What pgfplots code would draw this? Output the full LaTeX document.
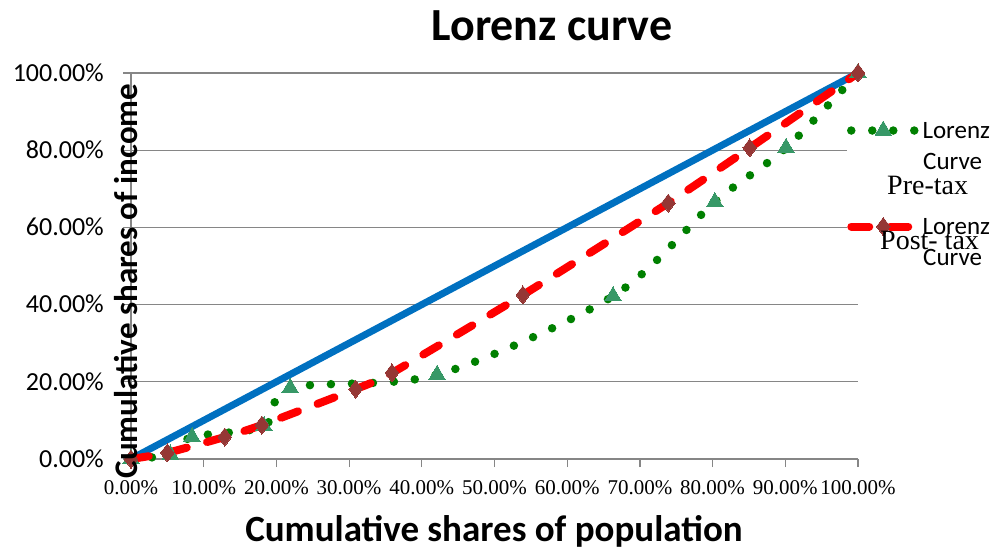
\documentclass[border=0pt]{standalone}
\usepackage{pgfplots}
\pgfplotsset{compat=1.18}
\usepackage{fontspec}
\setmainfont{Liberation Serif}
\newfontfamily\calib{Carlito}
\definecolor{eqblue}{RGB}{0,112,192}
\definecolor{pregreen}{RGB}{0,128,0}
\definecolor{pretri}{RGB}{55,152,103}
\definecolor{postred}{RGB}{255,0,0}
\definecolor{postdia}{RGB}{149,55,53}
\definecolor{gridgray}{RGB}{134,134,134}
\begin{document}
\begin{tikzpicture}
\useasboundingbox (-131pt,-88pt) rectangle (865pt,459pt);
\begin{axis}[
  at={(0pt,0pt)}, anchor=south west,
  scale only axis, width=727pt, height=386pt,
  xmin=0, xmax=100, ymin=0, ymax=100,
  clip=false,
  axis lines*=left,
  axis line style={gridgray, line width=1.2pt},
  ymajorgrids, major grid style={gridgray, line width=1.2pt},
  tick align=outside, major tick length=8pt,
  tick style={gridgray, line width=1.2pt},
  xtick={0,10,...,100}, ytick={0,20,...,100},
  xticklabels={0.00\%,10.00\%,20.00\%,30.00\%,40.00\%,50.00\%,60.00\%,70.00\%,80.00\%,90.00\%,100.00\%},
  yticklabels={0.00\%,20.00\%,40.00\%,60.00\%,80.00\%,100.00\%},
  xticklabel style={font=\fontsize{21}{21}\selectfont, anchor=north, inner sep=0pt, text height=14pt, text depth=0pt, yshift=-13pt},
  yticklabel style={font=\calib\fontsize{26}{26}\selectfont, anchor=east, inner sep=0pt, text height=16.4pt, text depth=0pt, xshift=-19pt},
  title={Lorenz curve},
  title style={at={(0.5791,1.0699)}, anchor=base, inner sep=0pt, font=\calib\bfseries\fontsize{46}{46}\selectfont},
  xlabel={Cumulative shares of population},
  xlabel style={at={(0.4993,-0.2150)}, anchor=base, inner sep=0pt, font=\calib\bfseries\fontsize{37}{37}\selectfont},
  ylabel={Cumulative shares of income},
  ylabel style={at={(0.0096,0.4611)}, anchor=base, inner sep=0pt, font=\calib\bfseries\fontsize{33}{33}\selectfont},
  legend style={at={(0.9849,0.8756)}, anchor=north west, draw=none, fill=white, inner sep=0pt, outer sep=0pt, row sep=79pt,
    font=\calib\fontsize{25}{25}\selectfont,
    nodes={inner sep=0pt, text height=16pt, text depth=0pt, anchor=west},
    /tikz/every odd column/.append style={column sep=3pt}},
  legend cell align=left,
  legend image code/.code={\draw[mark repeat=2, mark phase=2, #1] plot coordinates {(0pt,0pt) (32pt,0pt) (64pt,0pt)};},
]
\addplot[eqblue, line width=7pt, forget plot] coordinates {(0,0) (100,100)};
\addplot[pregreen, line width=8.5pt, line cap=round, dash pattern=on 0pt off 21pt, smooth, tension=0.5,
  mark=triangle*, mark size=9.5pt, mark options={solid, fill=pretri, draw=pretri, line width=0pt}]
  coordinates {(0,0) (5.4,1.2) (8.4,5.7) (18.3,8.5) (21.9,18.4) (42.1,21.8) (66.3,42.2) (80.3,66.6) (90.1,80.6) (100,100)};
\addlegendentry{Lorenz}
\addplot[postred, line width=8pt, line cap=round, dash pattern=on 18pt off 21pt, smooth, tension=0.3,
  mark=diamond*, mark size=9pt, mark options={solid, fill=postdia, draw=postdia, line width=0pt}]
  coordinates {(0,0) (5.0,1.6) (12.9,5.7) (18.0,8.8) (30.9,18.1) (35.9,22.3) (53.9,42.5) (73.9,66.3) (85.1,80.6) (100,100)};
\addlegendentry{Lorenz}
\end{axis}
\node[anchor=base west, inner sep=0pt, font=\calib\fontsize{25}{25}\selectfont] at (792pt,289pt) {Curve};
\node[anchor=base west, inner sep=0pt, font=\fontsize{28}{28}\selectfont] at (756pt,265pt) {Pre-tax};
\node[anchor=base west, inner sep=0pt, font=\calib\fontsize{25}{25}\selectfont] at (792pt,194pt) {Curve};
\node[anchor=base west, inner sep=0pt, font=\fontsize{28}{28}\selectfont] at (749pt,210pt) {Post- tax};
\end{tikzpicture}
\end{document}
